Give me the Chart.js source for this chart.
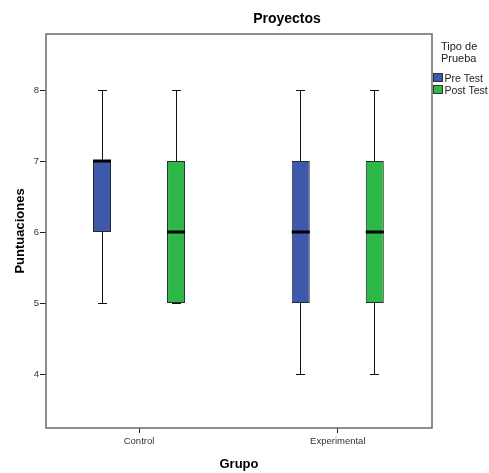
<!DOCTYPE html>
<html>
<head>
<meta charset="utf-8">
<script src="https://cdn.jsdelivr.net/npm/chart.js@4"></script>
<style>
  html, body { margin: 0; padding: 0; background: #fff; }
  #caja { width: 489px; height: 473px; }
</style>
</head>
<body>
<div id="caja"><canvas id="grafico" width="489" height="473"></canvas></div>
<script>
// Datos del diagrama de cajas
const grupos = ['Control', 'Experimental'];
const tipos = ['Pre Test', 'Post Test'];

const preMin = [5, 4];
const preQ1 = [6, 5];
const preMediana = [7, 6];
const preQ3 = [7, 7];
const preMax = [8, 8];

const postMin = [5, 4];
const postQ1 = [5, 5];
const postMediana = [6, 6];
const postQ3 = [7, 7];
const postMax = [8, 8];

const ticksY = [4, 5, 6, 7, 8];
const colores = ['#3E58AC', '#2EB848'];

Chart.defaults.font.family = "'Liberation Sans', Arial, sans-serif";
Chart.defaults.color = '#444';

// bigotes, topes y medianas sobre las barras flotantes
const cajasPlugin = {
  id: 'cajas',
  beforeDraw(chart) {
    const ctx = chart.ctx;
    ctx.save();
    ctx.fillStyle = '#fff';
    ctx.fillRect(0, 0, chart.width, chart.height);
    ctx.restore();
  },
  afterDatasetsDraw(chart) {
    const ctx = chart.ctx;
    const y = chart.scales.y;
    chart.data.datasets.forEach((ds, i) => {
      const meta = chart.getDatasetMeta(i);
      meta.data.forEach((bar, j) => {
        const x = Math.floor(bar.x) + 0.5;
        const w = bar.width;
        const yMin = Math.round(y.getPixelForValue(ds.minimos[j])) + 0.5;
        const yMax = Math.round(y.getPixelForValue(ds.maximos[j])) + 0.5;
        const yQ1 = y.getPixelForValue(ds.data[j].y[0]);
        const yQ3 = y.getPixelForValue(ds.data[j].y[1]);
        const yMed = Math.round(y.getPixelForValue(ds.medianas[j]));
        ctx.save();
        ctx.strokeStyle = '#111';
        ctx.lineWidth = 1;
        ctx.beginPath();
        ctx.moveTo(x, yQ3); ctx.lineTo(x, yMax);
        ctx.moveTo(x, yQ1); ctx.lineTo(x, yMin);
        ctx.moveTo(x - w / 4, yMax); ctx.lineTo(x + w / 4, yMax);
        ctx.moveTo(x - w / 4, yMin); ctx.lineTo(x + w / 4, yMin);
        ctx.stroke();
        ctx.strokeStyle = '#000';
        ctx.lineWidth = 3;
        ctx.beginPath();
        ctx.moveTo(bar.x - w / 2, yMed); ctx.lineTo(bar.x + w / 2, yMed);
        ctx.stroke();
        ctx.restore();
      });
    });
  },
  afterDraw(chart) {
    const ctx = chart.ctx;
    const a = chart.chartArea;
    ctx.save();
    // marco
    ctx.strokeStyle = '#6a6a6a';
    ctx.lineWidth = 1.5;
    ctx.strokeRect(a.left, a.top, a.right - a.left, a.bottom - a.top);

    // titulo
    ctx.fillStyle = '#000';
    ctx.font = "bold 14px 'Liberation Sans', Arial, sans-serif";
    ctx.textAlign = 'center';
    ctx.textBaseline = 'alphabetic';
    ctx.fillText('Proyectos', 287, 23);

    // leyenda
    ctx.fillStyle = '#222';
    ctx.textAlign = 'left';
    ctx.font = "11px 'Liberation Sans', Arial, sans-serif";
    ctx.fillText('Tipo de', 441, 50);
    ctx.fillText('Prueba', 441, 62);
    ctx.font = "10.5px 'Liberation Sans', Arial, sans-serif";
    tipos.forEach((t, i) => {
      const top = 73 + i * 12;
      ctx.fillStyle = colores[i];
      ctx.fillRect(433, top, 10, 9);
      ctx.strokeStyle = '#333';
      ctx.lineWidth = 1;
      ctx.strokeRect(433.5, top + 0.5, 9, 8);
      ctx.fillStyle = '#222';
      ctx.fillText(t, 444.5, top + 9);
    });
    ctx.restore();
  }
};

new Chart(document.getElementById('grafico'), {
  type: 'bar',
  data: {
    datasets: [
      {
        label: tipos[0],
        data: grupos.map((g, i) => ({ x: i, y: [preQ1[i], preQ3[i]] })),
        minimos: preMin,
        medianas: preMediana,
        maximos: preMax,
        backgroundColor: colores[0],
        borderColor: '#2a2a2a',
        borderWidth: 1,
        borderSkipped: false
      },
      {
        label: tipos[1],
        data: grupos.map((g, i) => ({ x: i, y: [postQ1[i], postQ3[i]] })),
        minimos: postMin,
        medianas: postMediana,
        maximos: postMax,
        backgroundColor: colores[1],
        borderColor: '#2a2a2a',
        borderWidth: 1,
        borderSkipped: false
      }
    ]
  },
  options: {
    responsive: false,
    animation: false,
    categoryPercentage: 0.745,
    barPercentage: 0.243,
    layout: { padding: { top: 34, right: 57, left: 0, bottom: 0 } },
    plugins: {
      legend: { display: false },
      title: { display: false },
      tooltip: { enabled: false }
    },
    scales: {
      x: {
        type: 'linear',
        min: -0.468,
        max: 1.474,
        bounds: 'data',
        offset: false,
        afterBuildTicks: (scale) => { scale.ticks = grupos.map((g, i) => ({ value: i })); },
        afterFit: (scale) => { scale.height = 45; },
        grid: { display: true, offset: false, drawOnChartArea: false, drawTicks: true, tickLength: 5, color: '#222' },
        border: { display: false },
        ticks: {
          padding: 3,
          maxRotation: 0,
          font: { size: 9.5 },
          color: '#333',
          callback: (v) => grupos[v]
        },
        title: {
          display: true,
          text: 'Grupo',
          color: '#000',
          font: { size: 13, weight: 'bold' },
          padding: { top: 0, bottom: 1 }
        }
      },
      y: {
        min: 3.24,
        max: 8.79,
        bounds: 'data',
        afterBuildTicks: (scale) => { scale.ticks = ticksY.map(v => ({ value: v })); },
        afterFit: (scale) => { scale.width = 46; },
        grid: { display: true, drawOnChartArea: false, drawTicks: true, tickLength: 6, color: '#222' },
        border: { display: false },
        ticks: { padding: 1, font: { size: 9.5 }, color: '#333' },
        title: {
          display: true,
          text: 'Puntuaciones',
          color: '#000',
          font: { size: 13, weight: 'bold' },
          padding: { top: 13, bottom: 0 }
        }
      }
    }
  },
  plugins: [cajasPlugin]
});
</script>
</body>
</html>
